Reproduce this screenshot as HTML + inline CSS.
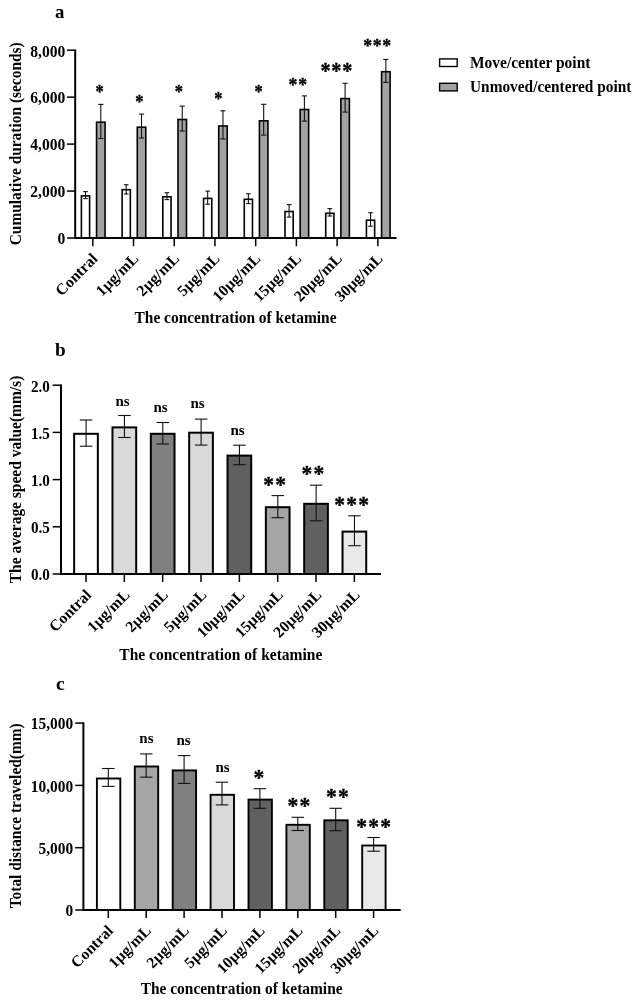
<!DOCTYPE html>
<html lang="en">
<head>
<meta charset="utf-8">
<title>Ketamine concentration charts</title>
<style>
html,body{margin:0;padding:0;background:#fff;}
body{width:642px;height:1003px;overflow:hidden;}
svg{display:block;filter:grayscale(1);}
svg text{font-family:"Liberation Serif", "Times New Roman", serif;font-weight:bold;fill:#000;}
</style>
</head>
<body>
<svg width="642" height="1003" viewBox="0 0 642 1003">
<rect width="642" height="1003" fill="#fff"/>
<!-- chart a -->
<text x="55.10" y="18.10" font-size="18.8" text-anchor="start">a</text>
<rect x="81.40" y="195.90" width="8.20" height="42.10" fill="#fff" stroke="#000" stroke-width="1.6"/>
<rect x="96.55" y="122.20" width="8.50" height="115.80" fill="#a2a2a6" stroke="#000" stroke-width="1.6"/>
<rect x="122.12" y="189.70" width="8.20" height="48.30" fill="#fff" stroke="#000" stroke-width="1.6"/>
<rect x="137.27" y="127.20" width="8.50" height="110.80" fill="#a2a2a6" stroke="#000" stroke-width="1.6"/>
<rect x="162.84" y="196.80" width="8.20" height="41.20" fill="#fff" stroke="#000" stroke-width="1.6"/>
<rect x="177.99" y="119.50" width="8.50" height="118.50" fill="#a2a2a6" stroke="#000" stroke-width="1.6"/>
<rect x="203.56" y="198.40" width="8.20" height="39.60" fill="#fff" stroke="#000" stroke-width="1.6"/>
<rect x="218.71" y="126.00" width="8.50" height="112.00" fill="#a2a2a6" stroke="#000" stroke-width="1.6"/>
<rect x="244.28" y="199.30" width="8.20" height="38.70" fill="#fff" stroke="#000" stroke-width="1.6"/>
<rect x="259.43" y="120.80" width="8.50" height="117.20" fill="#a2a2a6" stroke="#000" stroke-width="1.6"/>
<rect x="285.00" y="211.50" width="8.20" height="26.50" fill="#fff" stroke="#000" stroke-width="1.6"/>
<rect x="300.15" y="109.50" width="8.50" height="128.50" fill="#a2a2a6" stroke="#000" stroke-width="1.6"/>
<rect x="325.72" y="213.30" width="8.20" height="24.70" fill="#fff" stroke="#000" stroke-width="1.6"/>
<rect x="340.87" y="98.60" width="8.50" height="139.40" fill="#a2a2a6" stroke="#000" stroke-width="1.6"/>
<rect x="366.44" y="220.20" width="8.20" height="17.80" fill="#fff" stroke="#000" stroke-width="1.6"/>
<rect x="381.59" y="71.70" width="8.50" height="166.30" fill="#a2a2a6" stroke="#000" stroke-width="1.6"/>
<line x1="85.50" y1="191.60" x2="85.50" y2="198.60" stroke="#111" stroke-width="1.1"/>
<line x1="83.20" y1="191.60" x2="87.80" y2="191.60" stroke="#111" stroke-width="1.1"/>
<line x1="83.20" y1="198.60" x2="87.80" y2="198.60" stroke="#111" stroke-width="1.1"/>
<line x1="100.80" y1="104.40" x2="100.80" y2="138.50" stroke="#111" stroke-width="1.1"/>
<line x1="98.20" y1="104.40" x2="103.40" y2="104.40" stroke="#111" stroke-width="1.1"/>
<line x1="98.20" y1="138.50" x2="103.40" y2="138.50" stroke="#111" stroke-width="1.1"/>
<line x1="126.22" y1="184.70" x2="126.22" y2="194.00" stroke="#111" stroke-width="1.1"/>
<line x1="123.92" y1="184.70" x2="128.52" y2="184.70" stroke="#111" stroke-width="1.1"/>
<line x1="123.92" y1="194.00" x2="128.52" y2="194.00" stroke="#111" stroke-width="1.1"/>
<line x1="141.52" y1="114.10" x2="141.52" y2="138.00" stroke="#111" stroke-width="1.1"/>
<line x1="138.92" y1="114.10" x2="144.12" y2="114.10" stroke="#111" stroke-width="1.1"/>
<line x1="138.92" y1="138.00" x2="144.12" y2="138.00" stroke="#111" stroke-width="1.1"/>
<line x1="166.94" y1="192.70" x2="166.94" y2="199.60" stroke="#111" stroke-width="1.1"/>
<line x1="164.64" y1="192.70" x2="169.24" y2="192.70" stroke="#111" stroke-width="1.1"/>
<line x1="164.64" y1="199.60" x2="169.24" y2="199.60" stroke="#111" stroke-width="1.1"/>
<line x1="182.24" y1="106.10" x2="182.24" y2="131.00" stroke="#111" stroke-width="1.1"/>
<line x1="179.64" y1="106.10" x2="184.84" y2="106.10" stroke="#111" stroke-width="1.1"/>
<line x1="179.64" y1="131.00" x2="184.84" y2="131.00" stroke="#111" stroke-width="1.1"/>
<line x1="207.66" y1="191.10" x2="207.66" y2="204.20" stroke="#111" stroke-width="1.1"/>
<line x1="205.36" y1="191.10" x2="209.96" y2="191.10" stroke="#111" stroke-width="1.1"/>
<line x1="205.36" y1="204.20" x2="209.96" y2="204.20" stroke="#111" stroke-width="1.1"/>
<line x1="222.96" y1="110.80" x2="222.96" y2="139.00" stroke="#111" stroke-width="1.1"/>
<line x1="220.36" y1="110.80" x2="225.56" y2="110.80" stroke="#111" stroke-width="1.1"/>
<line x1="220.36" y1="139.00" x2="225.56" y2="139.00" stroke="#111" stroke-width="1.1"/>
<line x1="248.38" y1="193.70" x2="248.38" y2="203.60" stroke="#111" stroke-width="1.1"/>
<line x1="246.08" y1="193.70" x2="250.68" y2="193.70" stroke="#111" stroke-width="1.1"/>
<line x1="246.08" y1="203.60" x2="250.68" y2="203.60" stroke="#111" stroke-width="1.1"/>
<line x1="263.68" y1="104.30" x2="263.68" y2="135.10" stroke="#111" stroke-width="1.1"/>
<line x1="261.08" y1="104.30" x2="266.28" y2="104.30" stroke="#111" stroke-width="1.1"/>
<line x1="261.08" y1="135.10" x2="266.28" y2="135.10" stroke="#111" stroke-width="1.1"/>
<line x1="289.10" y1="204.60" x2="289.10" y2="217.10" stroke="#111" stroke-width="1.1"/>
<line x1="286.80" y1="204.60" x2="291.40" y2="204.60" stroke="#111" stroke-width="1.1"/>
<line x1="286.80" y1="217.10" x2="291.40" y2="217.10" stroke="#111" stroke-width="1.1"/>
<line x1="304.40" y1="95.90" x2="304.40" y2="121.10" stroke="#111" stroke-width="1.1"/>
<line x1="301.80" y1="95.90" x2="307.00" y2="95.90" stroke="#111" stroke-width="1.1"/>
<line x1="301.80" y1="121.10" x2="307.00" y2="121.10" stroke="#111" stroke-width="1.1"/>
<line x1="329.82" y1="208.60" x2="329.82" y2="216.00" stroke="#111" stroke-width="1.1"/>
<line x1="327.52" y1="208.60" x2="332.12" y2="208.60" stroke="#111" stroke-width="1.1"/>
<line x1="327.52" y1="216.00" x2="332.12" y2="216.00" stroke="#111" stroke-width="1.1"/>
<line x1="345.12" y1="83.30" x2="345.12" y2="112.10" stroke="#111" stroke-width="1.1"/>
<line x1="342.52" y1="83.30" x2="347.72" y2="83.30" stroke="#111" stroke-width="1.1"/>
<line x1="342.52" y1="112.10" x2="347.72" y2="112.10" stroke="#111" stroke-width="1.1"/>
<line x1="370.54" y1="212.70" x2="370.54" y2="226.20" stroke="#111" stroke-width="1.1"/>
<line x1="368.24" y1="212.70" x2="372.84" y2="212.70" stroke="#111" stroke-width="1.1"/>
<line x1="368.24" y1="226.20" x2="372.84" y2="226.20" stroke="#111" stroke-width="1.1"/>
<line x1="385.84" y1="59.40" x2="385.84" y2="82.40" stroke="#111" stroke-width="1.1"/>
<line x1="383.24" y1="59.40" x2="388.44" y2="59.40" stroke="#111" stroke-width="1.1"/>
<line x1="383.24" y1="82.40" x2="388.44" y2="82.40" stroke="#111" stroke-width="1.1"/>
<line x1="75.20" y1="49.45" x2="75.20" y2="239.00" stroke="#000" stroke-width="2.0"/>
<line x1="74.20" y1="238.00" x2="396.50" y2="238.00" stroke="#000" stroke-width="2.0"/>
<line x1="67.00" y1="238.00" x2="75.20" y2="238.00" stroke="#000" stroke-width="1.5"/>
<text x="65.30" y="244.30" font-size="16.9" text-anchor="end" textLength="7.80" lengthAdjust="spacingAndGlyphs">0</text>
<line x1="67.00" y1="191.05" x2="75.20" y2="191.05" stroke="#000" stroke-width="1.5"/>
<text x="65.30" y="197.35" font-size="16.9" text-anchor="end" textLength="35.10" lengthAdjust="spacingAndGlyphs">2,000</text>
<line x1="67.00" y1="144.10" x2="75.20" y2="144.10" stroke="#000" stroke-width="1.5"/>
<text x="65.30" y="150.40" font-size="16.9" text-anchor="end" textLength="35.10" lengthAdjust="spacingAndGlyphs">4,000</text>
<line x1="67.00" y1="97.15" x2="75.20" y2="97.15" stroke="#000" stroke-width="1.5"/>
<text x="65.30" y="103.45" font-size="16.9" text-anchor="end" textLength="35.10" lengthAdjust="spacingAndGlyphs">6,000</text>
<line x1="67.00" y1="50.20" x2="75.20" y2="50.20" stroke="#000" stroke-width="1.5"/>
<text x="65.30" y="56.50" font-size="16.9" text-anchor="end" textLength="35.10" lengthAdjust="spacingAndGlyphs">8,000</text>
<line x1="92.80" y1="238.00" x2="92.80" y2="246.20" stroke="#000" stroke-width="1.5"/>
<text transform="translate(98.60,259.70) rotate(-45)" font-size="15.7" text-anchor="end">Contral</text>
<line x1="133.52" y1="238.00" x2="133.52" y2="246.20" stroke="#000" stroke-width="1.5"/>
<text transform="translate(139.32,259.70) rotate(-45)" font-size="15.7" text-anchor="end">1µg/mL</text>
<line x1="174.24" y1="238.00" x2="174.24" y2="246.20" stroke="#000" stroke-width="1.5"/>
<text transform="translate(180.04,259.70) rotate(-45)" font-size="15.7" text-anchor="end">2µg/mL</text>
<line x1="214.96" y1="238.00" x2="214.96" y2="246.20" stroke="#000" stroke-width="1.5"/>
<text transform="translate(220.76,259.70) rotate(-45)" font-size="15.7" text-anchor="end">5µg/mL</text>
<line x1="255.68" y1="238.00" x2="255.68" y2="246.20" stroke="#000" stroke-width="1.5"/>
<text transform="translate(261.48,259.70) rotate(-45)" font-size="15.7" text-anchor="end">10µg/mL</text>
<line x1="296.40" y1="238.00" x2="296.40" y2="246.20" stroke="#000" stroke-width="1.5"/>
<text transform="translate(302.20,259.70) rotate(-45)" font-size="15.7" text-anchor="end">15µg/mL</text>
<line x1="337.12" y1="238.00" x2="337.12" y2="246.20" stroke="#000" stroke-width="1.5"/>
<text transform="translate(342.92,259.70) rotate(-45)" font-size="15.7" text-anchor="end">20µg/mL</text>
<line x1="377.84" y1="238.00" x2="377.84" y2="246.20" stroke="#000" stroke-width="1.5"/>
<text transform="translate(383.64,259.70) rotate(-45)" font-size="15.7" text-anchor="end">30µg/mL</text>
<text transform="translate(21.20,245.30) rotate(-90)" font-size="15.8" text-anchor="start" textLength="203.00" lengthAdjust="spacingAndGlyphs">Cumulative duration (seconds)</text>
<text x="134.50" y="322.80" font-size="16.2" text-anchor="start" textLength="202.00" lengthAdjust="spacingAndGlyphs">The concentration of ketamine</text>
<text transform="translate(99.60,89.30) scale(1,1.1)" y="7.79" font-size="16.5" text-anchor="middle" letter-spacing="0.0" stroke="#000" stroke-width="0.35" stroke-linejoin="round">*</text>
<text transform="translate(139.30,99.20) scale(1,1.1)" y="7.79" font-size="16.5" text-anchor="middle" letter-spacing="0.0" stroke="#000" stroke-width="0.35" stroke-linejoin="round">*</text>
<text transform="translate(178.90,89.60) scale(1,1.1)" y="7.79" font-size="16.5" text-anchor="middle" letter-spacing="0.0" stroke="#000" stroke-width="0.35" stroke-linejoin="round">*</text>
<text transform="translate(218.30,96.40) scale(1,1.1)" y="7.79" font-size="16.5" text-anchor="middle" letter-spacing="0.0" stroke="#000" stroke-width="0.35" stroke-linejoin="round">*</text>
<text transform="translate(258.60,89.20) scale(1,1.1)" y="7.79" font-size="16.5" text-anchor="middle" letter-spacing="0.0" stroke="#000" stroke-width="0.35" stroke-linejoin="round">*</text>
<text transform="translate(298.15,81.40) scale(1,1.1)" y="8.40" font-size="17.8" text-anchor="middle" letter-spacing="0.7" stroke="#000" stroke-width="0.35" stroke-linejoin="round">**</text>
<text transform="translate(336.80,67.40) scale(1,1.1)" y="9.58" font-size="20.3" text-anchor="middle" letter-spacing="0.8" stroke="#000" stroke-width="0.35" stroke-linejoin="round">***</text>
<text transform="translate(377.55,43.20) scale(1,1.1)" y="8.40" font-size="17.8" text-anchor="middle" letter-spacing="0.7" stroke="#000" stroke-width="0.35" stroke-linejoin="round">***</text>
<rect x="439.6" y="58.9" width="17.6" height="7.6" fill="#fff" stroke="#000" stroke-width="1.4"/>
<rect x="439.6" y="83.3" width="17.6" height="7.6" fill="#a2a2a6" stroke="#000" stroke-width="1.4"/>
<text x="470.00" y="67.60" font-size="16.2" text-anchor="start" textLength="120.40" lengthAdjust="spacingAndGlyphs">Move/center point</text>
<text x="470.00" y="92.30" font-size="16.2" text-anchor="start" textLength="161.40" lengthAdjust="spacingAndGlyphs">Unmoved/centered point</text>
<!-- chart b -->
<text x="55.10" y="355.50" font-size="19.3" text-anchor="start">b</text>
<rect x="74.15" y="433.80" width="23.70" height="140.20" fill="#fff" stroke="#000" stroke-width="2.0"/>
<rect x="112.49" y="427.40" width="23.70" height="146.60" fill="#d9d9d9" stroke="#000" stroke-width="2.0"/>
<rect x="150.83" y="433.80" width="23.70" height="140.20" fill="#808080" stroke="#000" stroke-width="2.0"/>
<rect x="189.17" y="432.70" width="23.70" height="141.30" fill="#d9d9d9" stroke="#000" stroke-width="2.0"/>
<rect x="227.51" y="455.60" width="23.70" height="118.40" fill="#606060" stroke="#000" stroke-width="2.0"/>
<rect x="265.85" y="507.20" width="23.70" height="66.80" fill="#a5a5a8" stroke="#000" stroke-width="2.0"/>
<rect x="304.19" y="503.80" width="23.70" height="70.20" fill="#606060" stroke="#000" stroke-width="2.0"/>
<rect x="342.53" y="531.60" width="23.70" height="42.40" fill="#e8e8e8" stroke="#000" stroke-width="2.0"/>
<line x1="86.10" y1="420.00" x2="86.10" y2="446.20" stroke="#111" stroke-width="1.1"/>
<line x1="79.85" y1="420.00" x2="92.35" y2="420.00" stroke="#111" stroke-width="1.1"/>
<line x1="79.85" y1="446.20" x2="92.35" y2="446.20" stroke="#111" stroke-width="1.1"/>
<line x1="124.44" y1="415.50" x2="124.44" y2="437.50" stroke="#111" stroke-width="1.1"/>
<line x1="118.19" y1="415.50" x2="130.69" y2="415.50" stroke="#111" stroke-width="1.1"/>
<line x1="118.19" y1="437.50" x2="130.69" y2="437.50" stroke="#111" stroke-width="1.1"/>
<line x1="162.78" y1="422.50" x2="162.78" y2="444.00" stroke="#111" stroke-width="1.1"/>
<line x1="156.53" y1="422.50" x2="169.03" y2="422.50" stroke="#111" stroke-width="1.1"/>
<line x1="156.53" y1="444.00" x2="169.03" y2="444.00" stroke="#111" stroke-width="1.1"/>
<line x1="201.12" y1="419.10" x2="201.12" y2="445.10" stroke="#111" stroke-width="1.1"/>
<line x1="194.87" y1="419.10" x2="207.37" y2="419.10" stroke="#111" stroke-width="1.1"/>
<line x1="194.87" y1="445.10" x2="207.37" y2="445.10" stroke="#111" stroke-width="1.1"/>
<line x1="239.46" y1="445.20" x2="239.46" y2="464.70" stroke="#111" stroke-width="1.1"/>
<line x1="233.21" y1="445.20" x2="245.71" y2="445.20" stroke="#111" stroke-width="1.1"/>
<line x1="233.21" y1="464.70" x2="245.71" y2="464.70" stroke="#111" stroke-width="1.1"/>
<line x1="277.80" y1="495.60" x2="277.80" y2="517.70" stroke="#111" stroke-width="1.1"/>
<line x1="271.55" y1="495.60" x2="284.05" y2="495.60" stroke="#111" stroke-width="1.1"/>
<line x1="271.55" y1="517.70" x2="284.05" y2="517.70" stroke="#111" stroke-width="1.1"/>
<line x1="316.14" y1="485.20" x2="316.14" y2="520.80" stroke="#111" stroke-width="1.1"/>
<line x1="309.89" y1="485.20" x2="322.39" y2="485.20" stroke="#111" stroke-width="1.1"/>
<line x1="309.89" y1="520.80" x2="322.39" y2="520.80" stroke="#111" stroke-width="1.1"/>
<line x1="354.48" y1="515.80" x2="354.48" y2="545.70" stroke="#111" stroke-width="1.1"/>
<line x1="348.23" y1="515.80" x2="360.73" y2="515.80" stroke="#111" stroke-width="1.1"/>
<line x1="348.23" y1="545.70" x2="360.73" y2="545.70" stroke="#111" stroke-width="1.1"/>
<line x1="61.00" y1="384.45" x2="61.00" y2="575.00" stroke="#000" stroke-width="2.0"/>
<line x1="60.00" y1="574.00" x2="381.00" y2="574.00" stroke="#000" stroke-width="2.0"/>
<line x1="52.60" y1="574.00" x2="61.00" y2="574.00" stroke="#000" stroke-width="1.5"/>
<text x="49.90" y="580.30" font-size="16.9" text-anchor="end" textLength="18.91" lengthAdjust="spacingAndGlyphs">0.0</text>
<line x1="52.60" y1="526.80" x2="61.00" y2="526.80" stroke="#000" stroke-width="1.5"/>
<text x="49.90" y="533.10" font-size="16.9" text-anchor="end" textLength="18.91" lengthAdjust="spacingAndGlyphs">0.5</text>
<line x1="52.60" y1="479.60" x2="61.00" y2="479.60" stroke="#000" stroke-width="1.5"/>
<text x="49.90" y="485.90" font-size="16.9" text-anchor="end" textLength="18.91" lengthAdjust="spacingAndGlyphs">1.0</text>
<line x1="52.60" y1="432.40" x2="61.00" y2="432.40" stroke="#000" stroke-width="1.5"/>
<text x="49.90" y="438.70" font-size="16.9" text-anchor="end" textLength="18.91" lengthAdjust="spacingAndGlyphs">1.5</text>
<line x1="52.60" y1="385.20" x2="61.00" y2="385.20" stroke="#000" stroke-width="1.5"/>
<text x="49.90" y="391.50" font-size="16.9" text-anchor="end" textLength="18.91" lengthAdjust="spacingAndGlyphs">2.0</text>
<line x1="86.00" y1="574.00" x2="86.00" y2="582.00" stroke="#000" stroke-width="1.5"/>
<text transform="translate(92.30,595.80) rotate(-45)" font-size="15.7" text-anchor="end">Contral</text>
<line x1="124.34" y1="574.00" x2="124.34" y2="582.00" stroke="#000" stroke-width="1.5"/>
<text transform="translate(130.64,595.80) rotate(-45)" font-size="15.7" text-anchor="end">1µg/mL</text>
<line x1="162.68" y1="574.00" x2="162.68" y2="582.00" stroke="#000" stroke-width="1.5"/>
<text transform="translate(168.98,595.80) rotate(-45)" font-size="15.7" text-anchor="end">2µg/mL</text>
<line x1="201.02" y1="574.00" x2="201.02" y2="582.00" stroke="#000" stroke-width="1.5"/>
<text transform="translate(207.32,595.80) rotate(-45)" font-size="15.7" text-anchor="end">5µg/mL</text>
<line x1="239.36" y1="574.00" x2="239.36" y2="582.00" stroke="#000" stroke-width="1.5"/>
<text transform="translate(245.66,595.80) rotate(-45)" font-size="15.7" text-anchor="end">10µg/mL</text>
<line x1="277.70" y1="574.00" x2="277.70" y2="582.00" stroke="#000" stroke-width="1.5"/>
<text transform="translate(284.00,595.80) rotate(-45)" font-size="15.7" text-anchor="end">15µg/mL</text>
<line x1="316.04" y1="574.00" x2="316.04" y2="582.00" stroke="#000" stroke-width="1.5"/>
<text transform="translate(322.34,595.80) rotate(-45)" font-size="15.7" text-anchor="end">20µg/mL</text>
<line x1="354.38" y1="574.00" x2="354.38" y2="582.00" stroke="#000" stroke-width="1.5"/>
<text transform="translate(360.68,595.80) rotate(-45)" font-size="15.7" text-anchor="end">30µg/mL</text>
<text transform="translate(21.00,583.20) rotate(-90)" font-size="15.8" text-anchor="start" textLength="207.50" lengthAdjust="spacingAndGlyphs">The average speed value(mm/s)</text>
<text x="119.30" y="659.60" font-size="16.2" text-anchor="start" textLength="203.10" lengthAdjust="spacingAndGlyphs">The concentration of ketamine</text>
<text x="122.60" y="405.50" font-size="15.0" text-anchor="middle">ns</text>
<text x="160.60" y="412.20" font-size="15.0" text-anchor="middle">ns</text>
<text x="197.60" y="408.30" font-size="15.0" text-anchor="middle">ns</text>
<text x="237.60" y="434.60" font-size="15.0" text-anchor="middle">ns</text>
<text transform="translate(275.20,480.30) scale(1,1.1)" y="10.20" font-size="21.6" text-anchor="middle" letter-spacing="1.2" stroke="#000" stroke-width="0.35" stroke-linejoin="round">**</text>
<text transform="translate(313.60,470.20) scale(1,1.1)" y="10.20" font-size="21.6" text-anchor="middle" letter-spacing="1.2" stroke="#000" stroke-width="0.35" stroke-linejoin="round">**</text>
<text transform="translate(352.20,500.80) scale(1,1.1)" y="10.20" font-size="21.6" text-anchor="middle" letter-spacing="1.2" stroke="#000" stroke-width="0.35" stroke-linejoin="round">***</text>
<!-- chart c -->
<text x="56.00" y="689.60" font-size="19.5" text-anchor="start">c</text>
<rect x="96.90" y="778.50" width="23.40" height="131.50" fill="#fff" stroke="#000" stroke-width="1.9"/>
<rect x="134.80" y="766.50" width="23.40" height="143.50" fill="#a5a5a8" stroke="#000" stroke-width="1.9"/>
<rect x="172.70" y="770.40" width="23.40" height="139.60" fill="#808080" stroke="#000" stroke-width="1.9"/>
<rect x="210.60" y="794.80" width="23.40" height="115.20" fill="#d9d9d9" stroke="#000" stroke-width="1.9"/>
<rect x="248.50" y="799.60" width="23.40" height="110.40" fill="#606060" stroke="#000" stroke-width="1.9"/>
<rect x="286.40" y="824.80" width="23.40" height="85.20" fill="#a5a5a8" stroke="#000" stroke-width="1.9"/>
<rect x="324.30" y="820.30" width="23.40" height="89.70" fill="#606060" stroke="#000" stroke-width="1.9"/>
<rect x="362.20" y="845.50" width="23.40" height="64.50" fill="#e8e8e8" stroke="#000" stroke-width="1.9"/>
<line x1="108.30" y1="768.50" x2="108.30" y2="786.40" stroke="#111" stroke-width="1.1"/>
<line x1="102.05" y1="768.50" x2="114.55" y2="768.50" stroke="#111" stroke-width="1.1"/>
<line x1="102.05" y1="786.40" x2="114.55" y2="786.40" stroke="#111" stroke-width="1.1"/>
<line x1="146.20" y1="753.90" x2="146.20" y2="777.20" stroke="#111" stroke-width="1.1"/>
<line x1="139.95" y1="753.90" x2="152.45" y2="753.90" stroke="#111" stroke-width="1.1"/>
<line x1="139.95" y1="777.20" x2="152.45" y2="777.20" stroke="#111" stroke-width="1.1"/>
<line x1="184.10" y1="755.60" x2="184.10" y2="783.40" stroke="#111" stroke-width="1.1"/>
<line x1="177.85" y1="755.60" x2="190.35" y2="755.60" stroke="#111" stroke-width="1.1"/>
<line x1="177.85" y1="783.40" x2="190.35" y2="783.40" stroke="#111" stroke-width="1.1"/>
<line x1="222.00" y1="782.20" x2="222.00" y2="804.90" stroke="#111" stroke-width="1.1"/>
<line x1="215.75" y1="782.20" x2="228.25" y2="782.20" stroke="#111" stroke-width="1.1"/>
<line x1="215.75" y1="804.90" x2="228.25" y2="804.90" stroke="#111" stroke-width="1.1"/>
<line x1="259.90" y1="788.70" x2="259.90" y2="808.30" stroke="#111" stroke-width="1.1"/>
<line x1="253.65" y1="788.70" x2="266.15" y2="788.70" stroke="#111" stroke-width="1.1"/>
<line x1="253.65" y1="808.30" x2="266.15" y2="808.30" stroke="#111" stroke-width="1.1"/>
<line x1="297.80" y1="817.30" x2="297.80" y2="830.50" stroke="#111" stroke-width="1.1"/>
<line x1="291.55" y1="817.30" x2="304.05" y2="817.30" stroke="#111" stroke-width="1.1"/>
<line x1="291.55" y1="830.50" x2="304.05" y2="830.50" stroke="#111" stroke-width="1.1"/>
<line x1="335.70" y1="808.30" x2="335.70" y2="830.70" stroke="#111" stroke-width="1.1"/>
<line x1="329.45" y1="808.30" x2="341.95" y2="808.30" stroke="#111" stroke-width="1.1"/>
<line x1="329.45" y1="830.70" x2="341.95" y2="830.70" stroke="#111" stroke-width="1.1"/>
<line x1="373.60" y1="837.50" x2="373.60" y2="851.20" stroke="#111" stroke-width="1.1"/>
<line x1="367.35" y1="837.50" x2="379.85" y2="837.50" stroke="#111" stroke-width="1.1"/>
<line x1="367.35" y1="851.20" x2="379.85" y2="851.20" stroke="#111" stroke-width="1.1"/>
<line x1="83.40" y1="722.35" x2="83.40" y2="911.00" stroke="#000" stroke-width="2.0"/>
<line x1="82.40" y1="910.00" x2="400.70" y2="910.00" stroke="#000" stroke-width="2.0"/>
<line x1="75.20" y1="910.00" x2="83.40" y2="910.00" stroke="#000" stroke-width="1.5"/>
<text x="73.20" y="916.30" font-size="16.9" text-anchor="end" textLength="7.70" lengthAdjust="spacingAndGlyphs">0</text>
<line x1="75.20" y1="847.70" x2="83.40" y2="847.70" stroke="#000" stroke-width="1.5"/>
<text x="73.20" y="854.00" font-size="16.9" text-anchor="end" textLength="34.65" lengthAdjust="spacingAndGlyphs">5,000</text>
<line x1="75.20" y1="785.40" x2="83.40" y2="785.40" stroke="#000" stroke-width="1.5"/>
<text x="73.20" y="791.70" font-size="16.9" text-anchor="end" textLength="42.35" lengthAdjust="spacingAndGlyphs">10,000</text>
<line x1="75.20" y1="723.10" x2="83.40" y2="723.10" stroke="#000" stroke-width="1.5"/>
<text x="73.20" y="729.40" font-size="16.9" text-anchor="end" textLength="42.35" lengthAdjust="spacingAndGlyphs">15,000</text>
<line x1="108.30" y1="910.00" x2="108.30" y2="918.00" stroke="#000" stroke-width="1.5"/>
<text transform="translate(114.10,931.70) rotate(-45)" font-size="15.7" text-anchor="end">Contral</text>
<line x1="146.20" y1="910.00" x2="146.20" y2="918.00" stroke="#000" stroke-width="1.5"/>
<text transform="translate(152.00,931.70) rotate(-45)" font-size="15.7" text-anchor="end">1µg/mL</text>
<line x1="184.10" y1="910.00" x2="184.10" y2="918.00" stroke="#000" stroke-width="1.5"/>
<text transform="translate(189.90,931.70) rotate(-45)" font-size="15.7" text-anchor="end">2µg/mL</text>
<line x1="222.00" y1="910.00" x2="222.00" y2="918.00" stroke="#000" stroke-width="1.5"/>
<text transform="translate(227.80,931.70) rotate(-45)" font-size="15.7" text-anchor="end">5µg/mL</text>
<line x1="259.90" y1="910.00" x2="259.90" y2="918.00" stroke="#000" stroke-width="1.5"/>
<text transform="translate(265.70,931.70) rotate(-45)" font-size="15.7" text-anchor="end">10µg/mL</text>
<line x1="297.80" y1="910.00" x2="297.80" y2="918.00" stroke="#000" stroke-width="1.5"/>
<text transform="translate(303.60,931.70) rotate(-45)" font-size="15.7" text-anchor="end">15µg/mL</text>
<line x1="335.70" y1="910.00" x2="335.70" y2="918.00" stroke="#000" stroke-width="1.5"/>
<text transform="translate(341.50,931.70) rotate(-45)" font-size="15.7" text-anchor="end">20µg/mL</text>
<line x1="373.60" y1="910.00" x2="373.60" y2="918.00" stroke="#000" stroke-width="1.5"/>
<text transform="translate(379.40,931.70) rotate(-45)" font-size="15.7" text-anchor="end">30µg/mL</text>
<text transform="translate(20.90,908.30) rotate(-90)" font-size="15.8" text-anchor="start" textLength="185.00" lengthAdjust="spacingAndGlyphs">Total distance traveled(mm)</text>
<text x="140.70" y="994.20" font-size="16.2" text-anchor="start" textLength="201.90" lengthAdjust="spacingAndGlyphs">The concentration of ketamine</text>
<text x="146.40" y="743.30" font-size="15.0" text-anchor="middle">ns</text>
<text x="183.50" y="745.20" font-size="15.0" text-anchor="middle">ns</text>
<text x="222.50" y="771.90" font-size="15.0" text-anchor="middle">ns</text>
<text transform="translate(258.80,773.90) scale(1,1.1)" y="10.20" font-size="21.6" text-anchor="middle" letter-spacing="0.0" stroke="#000" stroke-width="0.35" stroke-linejoin="round">*</text>
<text transform="translate(299.40,801.90) scale(1,1.1)" y="10.20" font-size="21.6" text-anchor="middle" letter-spacing="1.2" stroke="#000" stroke-width="0.35" stroke-linejoin="round">**</text>
<text transform="translate(338.10,792.70) scale(1,1.1)" y="10.20" font-size="21.6" text-anchor="middle" letter-spacing="1.2" stroke="#000" stroke-width="0.35" stroke-linejoin="round">**</text>
<text transform="translate(374.20,822.70) scale(1,1.1)" y="10.20" font-size="21.6" text-anchor="middle" letter-spacing="1.2" stroke="#000" stroke-width="0.35" stroke-linejoin="round">***</text>
</svg>
</body>
</html>
